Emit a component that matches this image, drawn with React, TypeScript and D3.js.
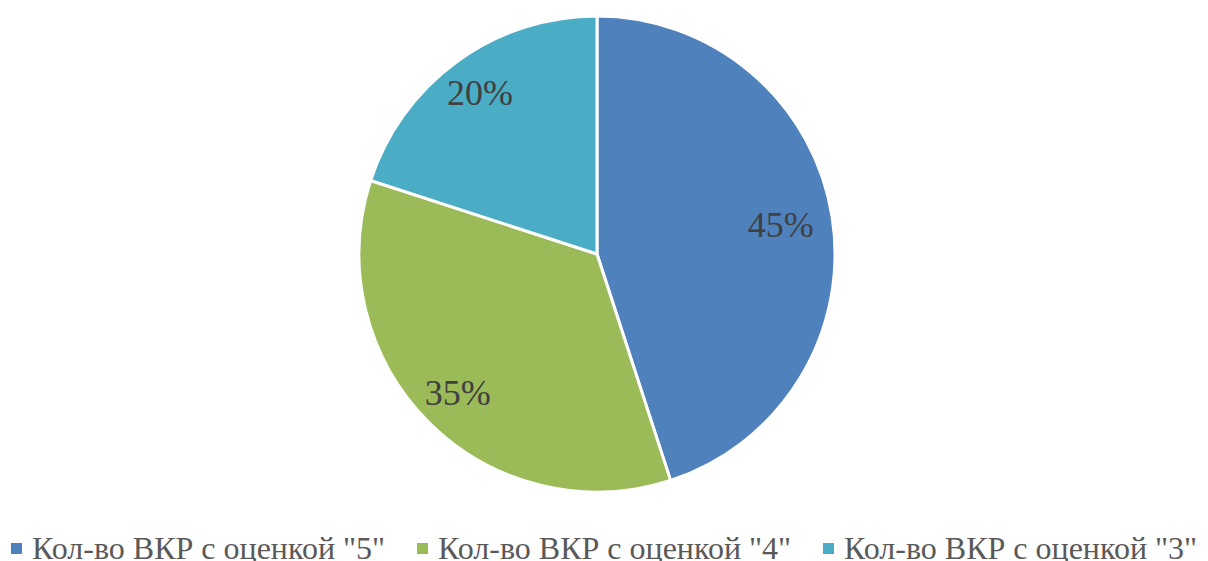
import React from "react";
import * as d3 from "d3";

const categories = ['Кол-во ВКР с оценкой "5"', 'Кол-во ВКР с оценкой "4"', 'Кол-во ВКР с оценкой "3"'];
const values = [45, 35, 20];
const colors = ["#4F81BD", "#9BBB59", "#4BACC6"];

const W = 1208, H = 561;
const cx = 597, cy = 254, R = 238;
const labelR = [186, 197, 199];
const legendX = [11, 417, 823];
const FONT = '"Liberation Serif"';

export default function App() {
  const pie = d3.pie<number>().sort(null).value((d) => d);
  const arcs = pie(values);
  const arc = d3.arc<d3.PieArcDatum<number>>().innerRadius(0).outerRadius(R);
  const total = d3.sum(values);
  return (
    <svg width={W} height={H} style={{ position: "absolute", left: 0, top: 0, background: "#fff" }}>
      <g transform={`translate(${cx},${cy})`}>
        {arcs.map((a, i) => (
          <path key={i} d={arc(a) || ""} fill={colors[i]} stroke="#fff" strokeWidth={3} strokeLinejoin="round" />
        ))}
        {arcs.map((a, i) => {
          const la = d3.arc<d3.PieArcDatum<number>>().innerRadius(labelR[i]).outerRadius(labelR[i]);
          const [x, y] = la.centroid(a);
          return (
            <text key={"t" + i} x={x} y={y + 12} textAnchor="middle"
              style={{ fontFamily: FONT, fontSize: 36 }} fill="#404040">
              {Math.round((values[i] / total) * 100) + "%"}
            </text>
          );
        })}
      </g>
      {categories.map((c, i) => (
        <g key={"l" + i}>
          <rect x={legendX[i]} y={543} width={11} height={11} fill={colors[i]} />
          <text x={legendX[i] + 21} y={559} style={{ fontFamily: FONT, fontSize: 32 }} fill="#595959">{c}</text>
        </g>
      ))}
    </svg>
  );
}
